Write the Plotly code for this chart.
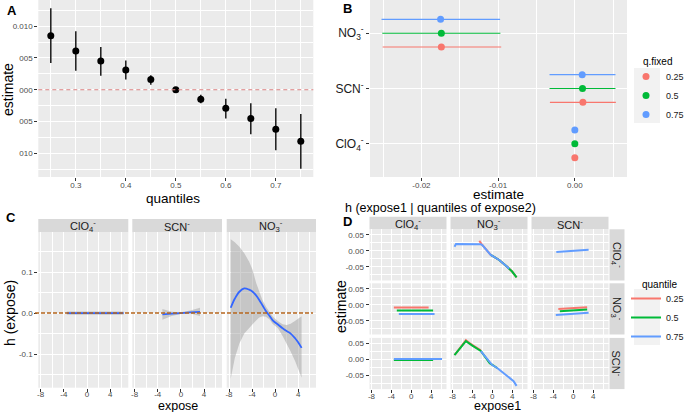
import plotly.graph_objects as go

W, H = 685, 412
FONT = "Liberation Sans, Arial, sans-serif"
RED, GREEN, BLUE = "#F8766D", "#00BA38", "#619CFF"

# ---------------- Panel A data ----------------
quantiles = [0.25, 0.30, 0.35, 0.40, 0.45, 0.50, 0.55, 0.60, 0.65, 0.70, 0.75]
est_A = [0.0085, 0.0061, 0.0045, 0.0031, 0.0016, 0.0, -0.0015, -0.0029, -0.0045, -0.0062, -0.0081]
lo_A = [0.0042, 0.0030, 0.0022, 0.0016, 0.0008, 0.0, -0.0021, -0.0045, -0.0070, -0.0095, -0.0124]
hi_A = [0.0128, 0.0092, 0.0067, 0.0046, 0.0023, 0.0, -0.0008, -0.0014, -0.0021, -0.0029, -0.0038]
ytick_A = [0.01, 0.005, 0.0, -0.005, -0.01]
ytext_A = ["0.010", "005", "000", "005", "010"]
xtick_A = [0.3, 0.4, 0.5, 0.6, 0.7]

# ---------------- Panel B data ----------------
exposures_B = ["ClO<sub>4</sub><sup>-</sup>", "SCN<sup>-</sup>", "NO<sub>3</sub><sup>-</sup>"]
q_fixed = ["0.25", "0.5", "0.75"]
q_colors = [RED, GREEN, BLUE]
est_B = {"0.25": [0.0000, 0.00105, -0.01740],
         "0.5": [0.0000, 0.00100, -0.01740],
         "0.75": [0.0000, 0.00096, -0.01750]}
lo_B = {"0.25": [0.0000, -0.00325, -0.02505],
        "0.5": [0.0000, -0.00330, -0.02510],
        "0.75": [0.0000, -0.00330, -0.02520]}
hi_B = {"0.25": [0.0000, 0.00535, -0.00960],
        "0.5": [0.0000, 0.00530, -0.00970],
        "0.75": [0.0000, 0.00530, -0.00974]}
dodge_B = {"0.25": -0.25, "0.5": 0.0, "0.75": 0.25}

# ---------------- Panel C data ----------------
C_panels = ["ClO<sub>4</sub><sup>-</sup>", "SCN<sup>-</sup>", "NO<sub>3</sub><sup>-</sup>"]
x_C_clo4 = [-3.5, 6.3]
fit_C_clo4 = [0.0, 0.0]
up_C_clo4 = [0.004, 0.004]
lw_C_clo4 = [-0.004, -0.004]

x_C_scn = [-3.2, -1.6, 0.0, 1.6, 3.3]
fit_C_scn = [-0.003, -0.0015, 0.0, 0.0015, 0.003]
up_C_scn = [0.010, 0.003, 0.002, 0.006, 0.013]
lw_C_scn = [-0.016, -0.007, -0.002, -0.001, -0.007]

x_C_no3 = [-7.7, -7.0, -6.2, -5.35, -4.5, -3.9, -3.3, -2.75, -2.2, -1.6, -0.9, -0.45, 0.5, 1.3, 2.0, 2.7, 3.5, 4.0, 4.6]
fit_C_no3 = [0.013, 0.035, 0.052, 0.060, 0.057, 0.052, 0.043, 0.032, 0.019, 0.005, -0.008, -0.017,
             -0.028, -0.037, -0.044, -0.050, -0.062, -0.071, -0.085]
up_C_no3 = [0.180, 0.173, 0.162, 0.146, 0.125, 0.105, 0.074, 0.052, 0.032, 0.016, 0.001, -0.008,
            -0.020, -0.027, -0.029, -0.026, -0.019, -0.014, -0.008]
lw_C_no3 = [-0.160, -0.110, -0.074, -0.050, -0.036, -0.027, -0.018, -0.011, -0.008, -0.009, -0.016, -0.026,
            -0.037, -0.056, -0.074, -0.094, -0.118, -0.135, -0.158]
xtick_CD = [-8, -4, 0, 4]

# ---------------- Panel D data ----------------
D_names = ["ClO<sub>4</sub><sup>-</sup>", "NO<sub>3</sub><sup>-</sup>", "SCN<sup>-</sup>"]
# row = fixed exposure (expose2), col = expose1
x_D_clo4_no3_q25 = [-2.6, -2.0, -0.3, 1.4, 3.0, 4.0, 4.9]
y_D_clo4_no3_q25 = [0.031, 0.018, -0.013, -0.029, -0.050, -0.065, -0.083]
x_D_clo4_no3_q50 = [-0.3, 1.4, 3.0, 4.0, 4.9]
y_D_clo4_no3_q50 = [-0.013, -0.029, -0.050, -0.065, -0.083]
x_D_clo4_no3_q75 = [-7.6, -7.3, -2.3, -2.0, -0.3, 1.4, 3.0, 3.4]
y_D_clo4_no3_q75 = [0.0125, 0.021, 0.020, 0.018, -0.013, -0.029, -0.050, -0.056]
x_D_clo4_scn_q75 = [-3.4, 3.1]
y_D_clo4_scn_q75 = [-0.004, 0.003]
x_D_no3_clo4_q25 = [-3.5, 3.5]
y_D_no3_clo4_q25 = [-0.009, -0.009]
x_D_no3_clo4_q50 = [-2.9, 4.4]
y_D_no3_clo4_q50 = [-0.018, -0.018]
x_D_no3_clo4_q75 = [-2.5, 4.7]
y_D_no3_clo4_q75 = [-0.029, -0.029]
x_D_no3_scn_q25 = [-3.0, 2.8]
y_D_no3_scn_q25 = [-0.0134, -0.008]
x_D_no3_scn_q50 = [-2.7, 2.8]
y_D_no3_scn_q50 = [-0.020, -0.015]
x_D_no3_scn_q75 = [-3.5, 3.1]
y_D_no3_scn_q75 = [-0.032, -0.025]
x_D_scn_clo4_q50 = [-3.5, 4.4]
y_D_scn_clo4_q50 = [-0.002, -0.002]
x_D_scn_clo4_q75 = [-3.5, 6.2]
y_D_scn_clo4_q75 = [0.001, 0.001]
x_D_scn_no3_q25 = [-7.5, -5.3, -4.5, -2.3]
y_D_scn_no3_q25 = [0.015, 0.060, 0.050, 0.028]
x_D_scn_no3_q50 = [-7.6, -6.5, -5.3, -4.0, -2.3, -0.5, 1.0]
y_D_scn_no3_q50 = [0.013, 0.035, 0.057, 0.043, 0.026, -0.012, -0.027]
x_D_scn_no3_q75 = [-2.3, -1.3, 0.0, 1.0, 2.0, 3.0, 3.7, 4.3, 4.9]
y_D_scn_no3_q75 = [0.026, 0.008, -0.018, -0.027, -0.039, -0.050, -0.059, -0.068, -0.083]

# ---------------- helpers ----------------
def xdom(l, r):
    return [l / W, r / W]

def ydom(t, b):
    return [1 - b / H, 1 - t / H]

def PX(x):
    return x / W

def PY(y):
    return 1 - y / H

def axis(domain, rng, tickvals, ticktext=None, labels=True, minor_dtick=None, anchor=None, tickfont=None,
         standoff=0):
    d = dict(domain=domain, range=rng, tickmode="array", tickvals=tickvals,
             showgrid=True, gridcolor="white", gridwidth=1.1, zeroline=False, showline=False,
             ticks="outside" if labels else "", ticklen=3, tickwidth=1, tickcolor="#333333",
             showticklabels=labels, ticklabelstandoff=standoff,
             tickfont=tickfont or dict(family=FONT, size=8, color="#4D4D4D"),
             fixedrange=True, layer="below traces")
    if ticktext is not None:
        d["ticktext"] = ticktext
    if minor_dtick is not None:
        d["minor"] = dict(dtick=minor_dtick, tick0=0, showgrid=True, gridcolor="white", gridwidth=0.5, ticks="")
    if anchor:
        d["anchor"] = anchor
    return d

fig = go.Figure()
layout = {}
shapes = []
annots = []

def ann(text, x, y, size=12, color="black", bold=False, angle=0, xanchor="center", yanchor="middle"):
    if bold:
        text = "<b>" + text + "</b>"
    annots.append(dict(text=text, x=PX(x), y=PY(y), xref="paper", yref="paper", showarrow=False,
                       font=dict(family=FONT, size=size, color=color), textangle=angle,
                       xanchor=xanchor, yanchor=yanchor))

# ---------------- Panel A ----------------
layout["xaxis"] = axis(xdom(38.3, 313.3), [0.225, 0.775], xtick_A, [str(v) for v in xtick_A],
                       minor_dtick=0.05, anchor="y", standoff=-3)
layout["yaxis"] = axis(ydom(0, 177), [-0.0137, 0.0141], ytick_A, ytext_A, minor_dtick=0.0025, anchor="x")
fig.add_trace(go.Scatter(
    x=quantiles, y=est_A, mode="markers", xaxis="x", yaxis="y", showlegend=False,
    marker=dict(color="black", size=7),
    error_y=dict(type="data", symmetric=False,
                 array=[h - e for h, e in zip(hi_A, est_A)],
                 arrayminus=[e - l for e, l in zip(est_A, lo_A)],
                 color="#1a1a1a", thickness=1.5, width=0)))
shapes.append(dict(type="line", xref="x domain", x0=0, x1=1, yref="y", y0=0, y1=0,
                   line=dict(color="#D98080", width=1.2, dash="4px,3px"), layer="above"))

# ---------------- Panel B ----------------
layout["xaxis2"] = axis(xdom(370, 627), [-0.0267, 0.0068], [-0.02, -0.01, 0.0], ["-0.02", "-0.01", "0.00"],
                        minor_dtick=0.005, anchor="y2", standoff=-3)
layout["yaxis2"] = axis(ydom(0, 177), [0.4, 3.6], [1, 2, 3], exposures_B, anchor="x2",
                        tickfont=dict(family=FONT, size=12, color="#1a1a1a"))
for q, col in zip(q_fixed, q_colors):
    ys = [i + 1 + dodge_B[q] for i in range(len(exposures_B))]
    fig.add_trace(go.Scatter(
        x=est_B[q], y=ys, mode="markers", xaxis="x2", yaxis="y2", name=q, legend="legend",
        marker=dict(color=col, size=7),
        error_x=dict(type="data", symmetric=False,
                     array=[h - e for h, e in zip(hi_B[q], est_B[q])],
                     arrayminus=[e - l for e, l in zip(est_B[q], lo_B[q])],
                     color=col, thickness=1.1, width=0)))

# ---------------- Panel C ----------------
C_dom = [(38.3, 128.3), (132.3, 222.0), (226.7, 316.0)]
C_data = [(x_C_clo4, fit_C_clo4, up_C_clo4, lw_C_clo4),
          (x_C_scn, fit_C_scn, up_C_scn, lw_C_scn),
          (x_C_no3, fit_C_no3, up_C_no3, lw_C_no3)]
C_top, C_strip, C_bot = 219.0, 232.3, 387.7
for i, ((l, r), (xs, fit, up, lw), name) in enumerate(zip(C_dom, C_data, C_panels)):
    xn = "xaxis%d" % (3 + i)
    yn = "yaxis%d" % (3 + i)
    xr, yr = "x%d" % (3 + i), "y%d" % (3 + i)
    layout[xn] = axis(xdom(l, r), [-8.4, 7.1], xtick_CD, [str(v) for v in xtick_CD], minor_dtick=2, anchor=yr,
                      standoff=-4)
    layout[yn] = axis(ydom(C_strip, C_bot), [-0.182, 0.197], [-0.1, 0.0, 0.1], ["-0.1", "0.0", "0.1"],
                      labels=(i == 0), minor_dtick=0.05, anchor=xr)
    fig.add_trace(go.Scatter(x=xs + xs[::-1], y=up + lw[::-1], fill="toself", mode="lines",
                             line=dict(width=0), fillcolor="rgba(153,153,153,0.45)",
                             xaxis=xr, yaxis=yr, showlegend=False, hoverinfo="skip"))
    fig.add_trace(go.Scatter(x=xs, y=fit, mode="lines", line=dict(color="#3366FF", width=1.8, shape="spline"),
                             xaxis=xr, yaxis=yr, showlegend=False))
    shapes.append(dict(type="rect", xref="paper", yref="paper", x0=PX(l), x1=PX(r), y0=PY(C_strip), y1=PY(C_top),
                       fillcolor="#D9D9D9", line=dict(width=0), layer="below"))
    ann(name, (l + r) / 2, (C_top + C_strip) / 2 + 0.5, size=11, color="#1a1a1a")
shapes.append(dict(type="line", xref="paper", x0=PX(35), x1=PX(313), yref="y3", y0=0, y1=0,
                   line=dict(color="#B5651D", width=1.5, dash="4px,2px"), layer="above"))

# ---------------- Panel D ----------------
D_cols = [(369.5, 446.5), (450.5, 527.5), (531.5, 608.5)]
D_rows = [(229.3, 280.5), (283.3, 334.5), (337.9, 389.1)]
D_strip_top = 216.7
D_lines = {
    (0, 1): [(x_D_clo4_no3_q25, y_D_clo4_no3_q25, 0), (x_D_clo4_no3_q50, y_D_clo4_no3_q50, 1),
             (x_D_clo4_no3_q75, y_D_clo4_no3_q75, 2)],
    (0, 2): [(x_D_clo4_scn_q75, y_D_clo4_scn_q75, 2)],
    (1, 0): [(x_D_no3_clo4_q25, y_D_no3_clo4_q25, 0), (x_D_no3_clo4_q50, y_D_no3_clo4_q50, 1),
             (x_D_no3_clo4_q75, y_D_no3_clo4_q75, 2)],
    (1, 2): [(x_D_no3_scn_q25, y_D_no3_scn_q25, 0), (x_D_no3_scn_q50, y_D_no3_scn_q50, 1),
             (x_D_no3_scn_q75, y_D_no3_scn_q75, 2)],
    (2, 0): [(x_D_scn_clo4_q50, y_D_scn_clo4_q50, 1), (x_D_scn_clo4_q75, y_D_scn_clo4_q75, 2)],
    (2, 1): [(x_D_scn_no3_q25, y_D_scn_no3_q25, 0), (x_D_scn_no3_q50, y_D_scn_no3_q50, 1),
             (x_D_scn_no3_q75, y_D_scn_no3_q75, 2)],
}
legend_done = set()
k = 6
for ri, (t, b) in enumerate(D_rows):
    for ci, (l, r) in enumerate(D_cols):
        xr, yr = "x%d" % k, "y%d" % k
        layout["xaxis%d" % k] = axis(xdom(l, r), [-8.4, 7.1], xtick_CD, [str(v) for v in xtick_CD],
                                     labels=(ri == 2), minor_dtick=2, anchor=yr, standoff=-4)
        layout["yaxis%d" % k] = axis(ydom(t, b), [-0.093, 0.067], [-0.05, 0.0, 0.05], ["-0.05", "0.00", "0.05"],
                                     labels=(ci == 0), minor_dtick=0.025, anchor=xr)
        # empty trace so that every facet panel is drawn (even those without lines)
        fig.add_trace(go.Scatter(x=[], y=[], mode="lines", xaxis=xr, yaxis=yr, showlegend=False, hoverinfo="skip"))
        for xs, ys, qi in D_lines.get((ri, ci), []):
            show = qi not in legend_done
            legend_done.add(qi)
            fig.add_trace(go.Scatter(x=xs, y=ys, mode="lines", line=dict(color=q_colors[qi], width=2),
                                     xaxis=xr, yaxis=yr, name=q_fixed[qi], legend="legend2",
                                     legendgroup="q" + q_fixed[qi], legendrank=qi, showlegend=show))
        k += 1
for ci, (l, r) in enumerate(D_cols):
    shapes.append(dict(type="rect", xref="paper", yref="paper", x0=PX(l), x1=PX(r), y0=PY(D_rows[0][0]),
                       y1=PY(D_strip_top), fillcolor="#D9D9D9", line=dict(width=0), layer="below"))
    ann(D_names[ci], (l + r) / 2, (D_strip_top + D_rows[0][0]) / 2 + 0.5, size=11, color="#1a1a1a")
for ri, (t, b) in enumerate(D_rows):
    shapes.append(dict(type="rect", xref="paper", yref="paper", x0=PX(609.5), x1=PX(624.5), y0=PY(b),
                       y1=PY(t), fillcolor="#D9D9D9", line=dict(width=0), layer="below"))
    ann(D_names[ri], 617, (t + b) / 2, size=11, color="#1a1a1a", angle=90)

# legend key backgrounds
for (y0, y1) in [(68, 123), (289, 345)]:
    shapes.append(dict(type="rect", xref="paper", yref="paper", x0=PX(634), x1=PX(660), y0=PY(y1), y1=PY(y0),
                       fillcolor="#F2F2F2", line=dict(width=0), layer="below"))

# ---------------- text ----------------
ann("A", 12, 11, size=13, bold=True)
ann("B", 347, 9, size=13, bold=True)
ann("C", 11, 217, size=13, bold=True)
ann("D", 348, 221, size=13, bold=True)
ann("estimate", 8, 90, size=14, angle=-90)
ann("quantiles", 173, 198, size=13.5)
ann("estimate", 499, 194, size=13.5)
ann("h (expose)", 10, 313, size=14, angle=-90)
ann("expose", 178, 406, size=12.5)
ann("expose1", 497, 406, size=12.5)
ann("estimate", 341, 307, size=14, angle=-90)
ann("h (expose1 | quantiles of expose2)", 343, 208, size=12.5, xanchor="left")
ann("q.fixed", 641, 62, size=10, xanchor="left")
ann("quantile", 640, 284, size=10, xanchor="left")

leg_common = dict(xanchor="left", yanchor="top", bgcolor="rgba(0,0,0,0)", borderwidth=0,
                  font=dict(family=FONT, size=9, color="#1a1a1a"), itemwidth=30, tracegroupgap=0,
                  itemclick=False, itemdoubleclick=False)
layout["legend"] = dict(x=PX(626), y=PY(62), **leg_common)
layout["legend2"] = dict(x=PX(626), y=PY(284), **leg_common)

fig.update_layout(
    width=W, height=H, margin=dict(l=0, r=0, t=0, b=0, autoexpand=False),
    paper_bgcolor="white", plot_bgcolor="#EBEBEB",
    font=dict(family=FONT, size=10, color="black"),
    shapes=shapes, annotations=annots, **layout)

fig.write_html("out.html", config={"displayModeBar": False},
               post_script="document.body.style.margin='0';document.body.style.overflow='hidden';")
